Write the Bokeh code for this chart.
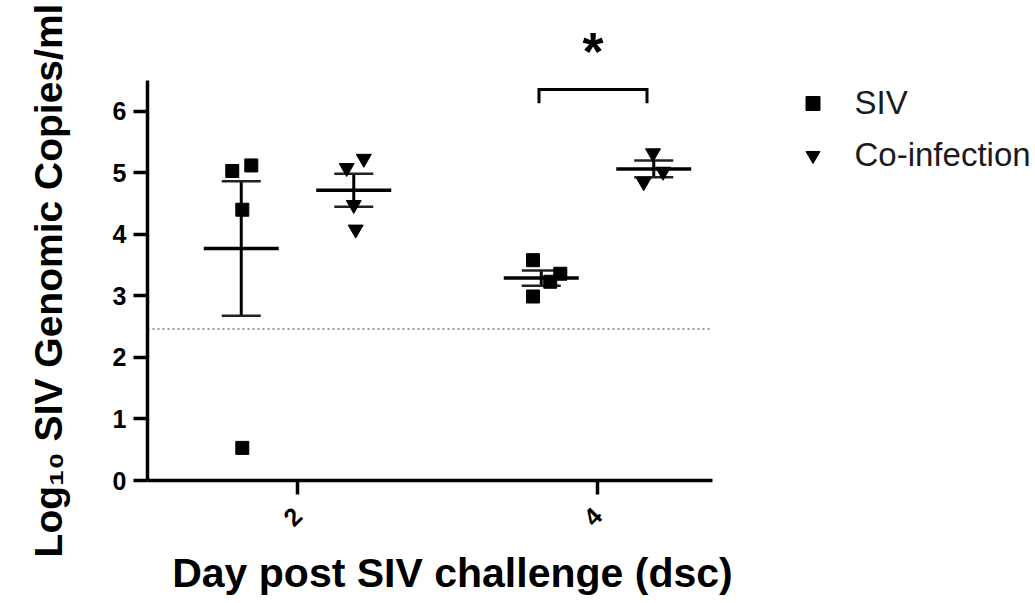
import numpy as np
from math import pi
from bokeh.plotting import figure
from bokeh.models import Range1d, Legend, LegendItem, FixedTicker, LinearAxis
from bokeh.embed import file_html
from bokeh.resources import INLINE

# ---------------- data ----------------
days = ["2", "4"]
groups = ["SIV", "Co-infection"]
# individual animals, log10 SIV genomic copies/ml
siv_day2 = [5.03, 5.12, 4.40, 0.53]
siv_day4 = [3.58, 2.99, 3.36, 3.23]
coinf_day2 = [5.08, 5.23, 4.48, 4.08]
coinf_day4 = [5.32, 5.02, 4.85]
# horizontal spread of the points inside each column (as drawn)
siv_day2_jit = [-0.06, 0.067, 0.007, 0.007]
siv_day4_jit = [-0.055, -0.055, 0.127, 0.06]
coinf_day2_jit = [-0.047, 0.067, 0.0, 0.013]
coinf_day4_jit = [-0.005, 0.062, -0.067]
lod = 2.46                      # limit of detection (dotted line)
y_ticks = [0, 1, 2, 3, 4, 5, 6]
sig_label = "*"
x_title = "Day post SIV challenge (dsc)"
y_title = "Log\u2081\u2080 SIV Genomic Copies/ml"

FONT = "Liberation Sans"

# ---------------- layout helpers ----------------
day_pos = [1.0, 3.0]            # axis position of each day group
grp_off = 0.375                 # offset of each series inside a day group
mean_half = 0.25
cap_half = 0.13
x_axis_end = 3.767
y_axis_end = 6.5
x_title_pos = 2.033             # centre of the x-axis title

siv_vals = [siv_day2, siv_day4]
co_vals = [coinf_day2, coinf_day4]
siv_jit = [siv_day2_jit, siv_day4_jit]
co_jit = [coinf_day2_jit, coinf_day4_jit]


def points(vals, jits, sign):
    xs, ys = [], []
    for d, v, j in zip(day_pos, vals, jits):
        c = d + sign * grp_off
        xs += [c + jj for jj in j]
        ys += list(v)
    return xs, ys


def stats(vals, sign):
    cx, m, s = [], [], []
    for d, v in zip(day_pos, vals):
        a = np.array(v)
        cx.append(d + sign * grp_off)
        m.append(a.mean())
        s.append(a.std(ddof=1) / np.sqrt(len(a)))
    return np.array(cx), np.array(m), np.array(s)


p = figure(width=1035, height=603,
           x_range=Range1d(0, 5.92), y_range=Range1d(0, y_axis_end),
           output_backend="svg", toolbar_location=None,
           min_border_left=147, min_border_right=0,
           min_border_top=80, min_border_bottom=123)
p.outline_line_color = None
p.xgrid.visible = False
p.ygrid.visible = False
p.background_fill_color = "white"
p.border_fill_color = "white"

# axes
p.xaxis.bounds = (0, x_axis_end)
p.yaxis.bounds = (0, y_axis_end)
p.xaxis.ticker = FixedTicker(ticks=day_pos)
p.xaxis.major_label_overrides = {day_pos[i]: days[i] for i in range(len(days))}
p.yaxis.ticker = FixedTicker(ticks=y_ticks)
for ax in (p.xaxis, p.yaxis):
    ax.axis_line_width = 3.5
    ax.axis_line_color = "black"
    ax.major_tick_line_width = 3.5
    ax.major_tick_line_color = "black"
    ax.major_tick_out = 14
    ax.major_tick_in = 0
    ax.minor_tick_line_color = None
    ax.major_label_text_font = FONT
    ax.major_label_text_font_style = "bold"
    ax.major_label_text_font_size = "25px"
    ax.major_label_text_color = "black"
    ax.major_label_standoff = 7
p.xaxis.major_label_orientation = pi / 4
p.xaxis.major_label_standoff = 17
p.yaxis.axis_label = y_title
p.yaxis.axis_label_text_font = FONT
p.yaxis.axis_label_text_font_style = "bold"
p.yaxis.axis_label_text_font_size = "39px"
p.yaxis.axis_label_text_color = "black"
p.yaxis.axis_label_standoff = 40

# x-axis title, placed as a second (line-less) axis under the first one
title_axis = LinearAxis(ticker=FixedTicker(ticks=[x_title_pos]),
                        major_label_overrides={x_title_pos: x_title},
                        axis_line_color=None, major_tick_line_color=None,
                        minor_tick_line_color=None, major_tick_out=0, major_tick_in=0,
                        major_label_text_font=FONT, major_label_text_font_style="bold",
                        major_label_text_font_size="41px", major_label_text_color="black",
                        major_label_standoff=12)
p.add_layout(title_axis, "below")

# limit of detection
p.line(x=[0, x_axis_end], y=[lod, lod], line_color="#999999",
       line_width=2, line_dash="2 3")

# mean and SEM
for vals, sign in ((siv_vals, -1), (co_vals, 1)):
    cx, m, s = stats(vals, sign)
    p.segment(x0=cx, y0=m - s, x1=cx, y1=m + s, line_color="black", line_width=3)
    p.segment(x0=cx - cap_half, y0=m + s, x1=cx + cap_half, y1=m + s,
              line_color="#222222", line_width=2.5)
    p.segment(x0=cx - cap_half, y0=m - s, x1=cx + cap_half, y1=m - s,
              line_color="#222222", line_width=2.5)
    p.segment(x0=cx - mean_half, y0=m, x1=cx + mean_half, y1=m,
              line_color="black", line_width=3.5)

# points
sx, sy = points(siv_vals, siv_jit, -1)
r_siv = p.scatter(x=sx, y=sy, marker="square", size=13, color="black")
cx_, cy_ = points(co_vals, co_jit, 1)
r_co = p.scatter(x=cx_, y=cy_, marker="inverted_triangle", size=15, color="black")

# significance bracket at day 4
bx0 = day_pos[1] - 0.39
bx1 = day_pos[1] + 0.33
b_top, b_leg = 6.355, 6.13
p.line(x=[bx0, bx0, bx1, bx1], y=[b_leg, b_top, b_top, b_leg],
       line_color="black", line_width=3, line_join="miter")

# significance star, placed above the bracket
star_x = (bx0 + bx1) / 2
star_axis = LinearAxis(ticker=FixedTicker(ticks=[star_x]),
                       major_label_overrides={star_x: sig_label},
                       axis_line_color=None, major_tick_line_color=None,
                       minor_tick_line_color=None, major_tick_out=0, major_tick_in=0,
                       major_label_text_font=FONT, major_label_text_font_style="bold",
                       major_label_text_font_size="54px", major_label_text_color="black",
                       major_label_standoff=0)
p.add_layout(star_axis, "above")

# legend (inside the wide frame, right of the axes)
legend = Legend(items=[LegendItem(label=groups[0], renderers=[r_siv]),
                       LegendItem(label=groups[1], renderers=[r_co])],
                location=(647.5, 306), padding=0, margin=0, spacing=14,
                glyph_width=35, glyph_height=38, label_height=38, label_standoff=25,
                label_text_font=FONT, label_text_font_size="33px",
                label_text_color="#1a1a1a", border_line_color=None,
                background_fill_alpha=0)
p.add_layout(legend)

open("out.html", "w").write(file_html(p, INLINE))
